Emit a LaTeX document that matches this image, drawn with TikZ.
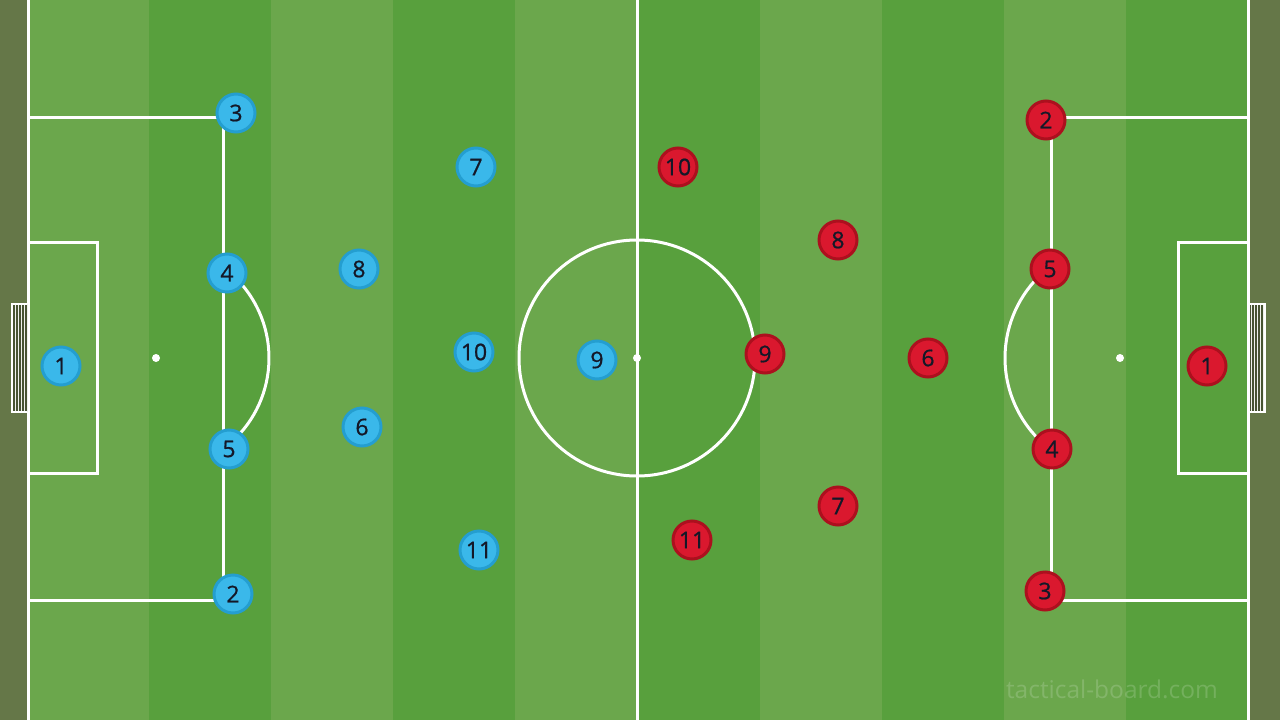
\documentclass[tikz,border=0pt]{standalone}
\usepackage{fontspec}
\setmainfont{Open Sans}
\newfontfamily\numfont[FakeBold=0.8]{Open Sans}
\newfontfamily\wmfont{Open Sans}
\definecolor{olive}{RGB}{101,119,72}
\definecolor{lightg}{RGB}{107,167,76}
\definecolor{darkg}{RGB}{88,160,61}
\definecolor{bluefill}{RGB}{58,184,234}
\definecolor{bluering}{RGB}{36,158,208}
\definecolor{redfill}{RGB}{218,24,46}
\definecolor{redring}{RGB}{172,16,30}
\definecolor{numtxt}{RGB}{20,24,40}
\begin{document}
\begin{tikzpicture}[x=1pt,y=-1pt,
  fieldline/.style={draw=white,line width=3pt},
  playerbase/.style={circle,minimum size=38pt,inner sep=0pt,line width=3pt,text=numtxt,font=\numfont\fontsize{23}{23}\selectfont},
  blueplayer/.style={playerbase,fill=bluefill,draw=bluering},
  redplayer/.style={playerbase,fill=redfill,draw=redring},
  spot/.style={circle,fill=white,minimum size=8pt,inner sep=0pt}]
\useasboundingbox (0,0) rectangle (1280,720);
\fill[olive] (0,0) rectangle (1280,720);
% stripes
\foreach \i in {0,...,9}{
  \pgfmathsetmacro{\xa}{27+122.1*\i}
  \pgfmathsetmacro{\xb}{27+122.1*(\i+1)}
  \pgfmathtruncatemacro{\stripeparity}{mod(\i,2)}
  \ifnum\stripeparity=0 \fill[lightg] (\xa,0) rectangle (\xb,720);
  \else \fill[darkg] (\xa,0) rectangle (\xb,720); \fi
}
% touchlines and halfway line
\draw[fieldline] (28.5,0) -- (28.5,720);
\draw[fieldline] (1248,0) -- (1248,720);
\draw[fieldline] (637,0) -- (637,720);
% left penalty and goal areas
\draw[fieldline] (28,117) -- (223,117) -- (223,600) -- (28,600);
\draw[fieldline] (28,242) -- (97,242) -- (97,473) -- (28,473);
\draw[fieldline] ([shift={(156,358)}]-53.6:113) arc[start angle=-53.6,end angle=53.6,radius=113];
% right penalty and goal areas
\draw[fieldline] (1248,117) -- (1051,117) -- (1051,600) -- (1248,600);
\draw[fieldline] (1248,242) -- (1178,242) -- (1178,473) -- (1248,473);
\draw[fieldline] ([shift={(1120,358)}]126.9:115) arc[start angle=126.9,end angle=233.1,radius=115];
% centre circle
\draw[fieldline] (637,358) circle[radius=118];
\node[spot] (lspot) at (156,358) {};
\node[spot] (rspot) at (1120,358) {};
\node[spot] (cspot) at (637,358) {};
% goals
\fill[olive!70!black] (12,304) rectangle (27,412);
\draw[white!90!olive,line width=0.9pt] (12,304) grid[step=3] (27,412);
\draw[white,line width=2pt] (27,304) -- (12,304) -- (12,412) -- (27,412);
\fill[olive!70!black] (1250,304) rectangle (1265,412);
\draw[white!90!olive,line width=0.9pt] (1250,304) grid[step=3] (1265,412);
\draw[white,line width=2pt] (1250,304) -- (1265,304) -- (1265,412) -- (1250,412);
% blue team
\node[blueplayer] (b1) at (61,366) {1};
\node[blueplayer] (b3) at (236,113) {3};
\node[blueplayer] (b4) at (227,273) {4};
\node[blueplayer] (b5) at (229,449) {5};
\node[blueplayer] (b2) at (233,594) {2};
\node[blueplayer] (b8) at (359,269) {8};
\node[blueplayer] (b6) at (362,427) {6};
\node[blueplayer] (b7) at (476,167) {7};
\node[blueplayer] (b10) at (474,352) {10};
\node[blueplayer] (b11) at (479,550) {11};
\node[blueplayer] (b9) at (597,360) {9};
% red team
\node[redplayer] (r1) at (1207,366) {1};
\node[redplayer] (r2) at (1046,120) {2};
\node[redplayer] (r5) at (1050,269) {5};
\node[redplayer] (r4) at (1052,449) {4};
\node[redplayer] (r3) at (1045,591) {3};
\node[redplayer] (r6) at (928,358) {6};
\node[redplayer] (r8) at (838,240) {8};
\node[redplayer] (r7) at (838,506) {7};
\node[redplayer] (r9) at (765,354) {9};
\node[redplayer] (r10) at (678,167) {10};
\node[redplayer] (r11) at (692,540) {11};
% watermark
\node[text=white,opacity=0.17,font=\wmfont\fontsize{24.5}{24.5}\selectfont,inner sep=0pt] (wm) at (1112,689) {tactical-board.com};
\end{tikzpicture}
\end{document}
